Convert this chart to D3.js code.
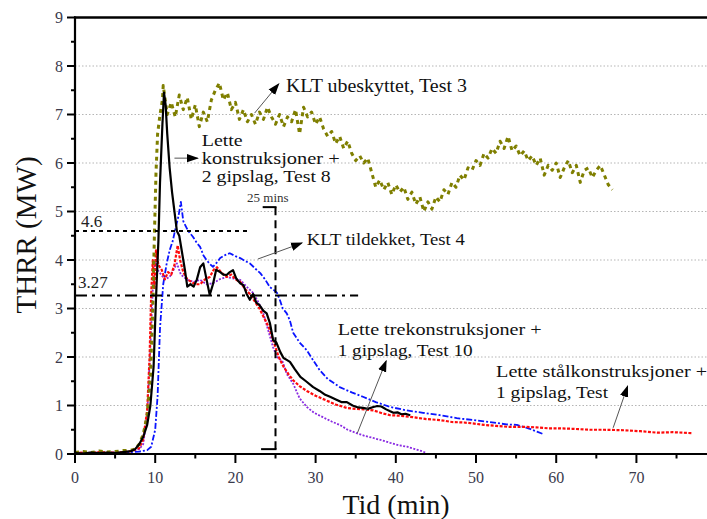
<!DOCTYPE html>
<html><head><meta charset="utf-8">
<script src="https://cdn.jsdelivr.net/npm/d3@7"></script>
<style>body{margin:0;background:#fff}svg{display:block}</style>
</head><body>
<svg id="c" width="707" height="519"></svg>
<script>
// ---------- DATA ----------
const xTicksMajor = [0,10,20,30,40,50,60,70];
const xTicksMinor = [5,15,25,35,45,55,65,75];
const yTicksMajor = [0,1,2,3,4,5,6,7,8,9];
const yTicksMinor = [0.5,1.5,2.5,3.5,4.5,5.5,6.5,7.5,8.5];
const gridY = [1,2,3,4,5,6,7,8];

// KLT ubeskyttet, Test 3 (olive)
const oliveT = [0,1,2,3,4,5,6,7,7.5,8,8.5,9,9.4,9.7,9.9,10.1,10.3,10.6,10.9,11.0,11.5,12.0,12.5,13.0,13.5,14.0,14.5,15.0,15.5,16.0,16.5,17.0,17.5,18.0,18.5,19.0,19.5,20.0,20.5,21.0,21.5,22.0,22.5,23.0,23.5,24.0,24.5,25.0,25.5,26.0,26.5,27.0,27.5,28.0,28.5,29.0,29.5,30.0,30.5,31.0,31.5,32.0,32.5,33.0,33.5,34.0,34.5,35.0,35.5,36.0,36.5,37.0,37.5,38.0,38.5,39.0,39.5,40.0,40.5,41.0,41.5,42.0,42.5,43.0,43.5,44.0,44.5,45.0,45.5,46.0,46.5,47.0,47.5,48.0,48.5,49.0,49.5,50.0,50.5,51.0,51.5,52.0,52.5,53.0,53.5,54.0,54.5,55.0,55.5,56.0,56.5,57.0,57.5,58.0,58.5,59.0,59.5,60.0,60.5,61.0,61.5,62.0,62.5,63.0,63.5,64.0,64.5,65.0,65.5,66.0,66.5,67.0];
const oliveV = [0.03,0.05,0.03,0.06,0.04,0.05,0.07,0.08,0.1,0.2,0.4,0.8,1.6,3.0,4.5,5.8,6.6,7.0,7.3,7.6,7.0,7.25,6.95,7.4,7.1,7.35,6.9,7.2,6.75,7.05,6.85,7.3,7.5,7.65,7.3,7.45,7.1,7.25,6.9,7.1,6.85,7.0,6.8,7.05,6.9,7.15,6.95,6.8,7.0,6.75,6.95,6.85,7.1,6.6,7.15,6.95,7.05,6.8,6.95,6.7,6.55,6.65,6.4,6.55,6.3,6.45,6.2,6.05,6.15,6.0,6.1,5.8,5.5,5.65,5.45,5.6,5.35,5.55,5.4,5.5,5.25,5.4,5.15,5.3,5.0,5.2,5.05,5.3,5.2,5.45,5.35,5.6,5.5,5.75,5.65,5.9,5.85,6.05,5.95,6.2,6.1,6.3,6.2,6.45,6.3,6.55,6.25,6.35,6.15,6.25,6.05,6.15,5.95,6.1,5.75,5.95,5.85,6.0,5.7,5.9,6.05,5.8,5.95,5.6,5.85,5.9,5.7,5.85,5.95,5.75,5.55,5.45];

// Lette konstruksjoner + 2 gipslag, Test 8 (black)
const blackT = [0,1,2,3,4,5,6,7,7.5,8,8.5,9,9.4,9.8,10.1,10.4,10.6,10.9,11.1,11.3,11.5,11.8,12.1,12.4,12.7,13.0,13.3,13.7,14.0,14.4,14.8,15.2,15.6,16.0,16.4,16.8,17.2,17.6,18.1,18.5,18.9,19.3,19.7,20.1,20.6,21.0,21.4,21.8,22.2,22.6,23.0,23.5,23.9,24.3,24.7,25.1,25.6,26.0,26.4,26.8,27.4,28.1,28.8,29.7,30.5,31.2,31.8,32.6,33.2,33.9,34.6,35.3,35.9,36.5,37.2,37.7,38.2,38.8,39.3,39.7,40.2,40.7,41.2,41.8];
const blackV = [0.02,0.01,0.03,0.02,0.03,0.02,0.04,0.06,0.1,0.2,0.35,0.6,1.0,1.8,3.2,4.4,5.6,6.8,7.45,7.2,6.6,5.9,5.4,5.0,4.6,4.5,4.2,3.8,3.45,3.5,3.45,3.6,3.85,3.93,3.6,3.28,3.5,3.8,3.75,3.7,3.69,3.75,3.79,3.62,3.52,3.48,3.3,3.18,3.3,3.12,3.07,2.95,2.9,2.7,2.35,2.3,2.1,1.98,1.94,1.9,1.75,1.59,1.5,1.38,1.3,1.22,1.18,1.12,1.07,1.07,1.0,0.96,0.95,0.93,0.97,0.99,0.98,0.92,0.88,0.85,0.86,0.82,0.83,0.8];

// Lette stålkonstruksjoner + 1 gipslag (red)
const redT = [0,1,2,3,4,5,6,7,8,8.5,9,9.3,9.5,9.7,9.9,10.1,10.4,10.8,11.2,11.6,12.0,12.4,12.8,13.1,13.5,14.0,14.5,15.0,15.6,16.2,16.8,17.3,17.7,18.2,18.9,19.5,20.0,20.6,21.2,21.8,22.4,23.0,23.6,24.2,24.8,25.4,26.0,26.6,27.2,28.0,28.9,30.0,31.4,32.5,33.9,35.0,36.0,37.2,38.3,39.3,40.5,42.1,43.8,45.5,47.0,48.5,49.6,51.0,52.5,54.0,55.9,57.5,59.0,60.1,62.0,64.2,66.0,68.4,70.5,72.6,74.5,76.9];
const redV = [0.02,0.03,0.02,0.04,0.03,0.03,0.04,0.06,0.12,0.3,0.9,2.0,3.3,4.0,3.4,4.2,3.9,3.8,3.6,3.75,3.7,3.9,4.3,4.0,3.75,3.6,3.55,3.5,3.5,3.6,3.65,3.8,3.85,3.75,3.65,3.7,3.6,3.55,3.4,3.3,3.15,3.0,2.8,2.6,2.3,2.0,1.8,1.65,1.52,1.4,1.3,1.2,1.1,1.02,0.95,0.93,0.92,0.9,0.84,0.8,0.79,0.76,0.72,0.7,0.66,0.65,0.63,0.6,0.58,0.56,0.56,0.55,0.53,0.53,0.52,0.5,0.5,0.49,0.47,0.44,0.45,0.43];

// KLT tildekket, Test 4 (blue)
const blueT = [0,1,2,3,4,5,6,7,8,9,9.5,10.0,10.3,10.6,11.0,11.4,11.8,12.2,12.6,12.9,13.2,13.5,13.8,14.1,14.7,15.2,15.6,16.0,16.4,16.8,17.2,17.7,18.1,18.7,19.3,20.0,20.6,21.2,21.8,22.5,23.1,23.7,24.3,24.8,25.2,25.6,25.9,26.4,26.8,27.2,28.0,28.9,29.7,30.5,31.5,33.0,34.5,35.9,37.5,39.3,41.3,43.4,45.5,47.6,49.6,51.7,53.8,55.1,56.7,57.6,58.4];
const blueV = [0.02,0.02,0.03,0.02,0.03,0.03,0.03,0.04,0.05,0.08,0.15,0.5,1.2,2.6,3.5,3.9,4.2,4.4,4.7,4.9,5.2,4.8,4.7,4.6,4.48,4.35,4.27,4.1,4.0,3.92,3.86,3.95,4.04,4.1,4.14,4.08,4.04,3.98,3.93,3.82,3.73,3.6,3.44,3.38,3.32,3.15,3.0,2.9,2.75,2.5,2.3,2.14,1.93,1.73,1.55,1.38,1.27,1.18,1.07,0.97,0.9,0.85,0.8,0.74,0.7,0.66,0.61,0.6,0.52,0.46,0.41];

// Lette trekonstruksjoner + 1 gipslag, Test 10 (purple)
const purpleT = [0,1,2,3,4,5,6,7,8,8.5,9,9.4,9.7,10.0,10.3,10.6,11.2,11.8,12.3,12.7,13.2,14.0,14.8,15.6,16.4,17.2,18.0,18.9,19.7,20.6,21.4,22.2,22.8,23.4,24.0,24.7,25.2,25.9,26.4,27.2,28.0,28.9,29.8,30.9,32.0,33.0,34.0,35.1,36.2,37.2,38.3,39.3,40.4,41.4,42.4,43.4,43.8];
const purpleV = [0.02,0.03,0.02,0.03,0.02,0.03,0.04,0.05,0.1,0.2,0.8,2.2,3.4,4.0,3.8,3.73,3.6,3.65,3.8,3.93,3.7,3.59,3.55,3.59,3.5,3.52,3.6,3.65,3.62,3.59,3.45,3.32,3.15,2.95,2.6,2.2,2.0,1.9,1.65,1.45,1.15,0.97,0.85,0.76,0.67,0.6,0.5,0.43,0.37,0.33,0.28,0.23,0.18,0.15,0.1,0.05,0.02];

// Reference lines
const refH1 = {value:4.6, x0:0, x1:21.8, label:"4.6"};
const refH2 = {value:3.27, x0:0, x1:35.3, label:"3.27"};
const refV = {time:25, top:5.09, label:"25 mins"};

// Annotations (text lines, baselines in MW, widths of each line)
const notes = [
  {lines:["KLT ubeskyttet, Test 3"], x:26.3, ys:[7.46], widths:[181], size:18, from:[22.4,7.03], to:[25.4,7.63]},
  {lines:["Lette","konstruksjoner +","2 gipslag, Test 8"], x:15.8, ys:[6.35,5.98,5.61], widths:[41,138,129], size:17, from:[12.4,6.1], to:[15.3,6.1]},
  {lines:["KLT tildekket, Test 4"], x:28.9, ys:[4.31], widths:[158], size:17, from:[22.8,4.02], to:[28.3,4.35]},
  {lines:["Lette trekonstruksjoner +","1 gipslag, Test 10"], x:32.75, ys:[2.45,2.02], widths:[204,135], size:17, from:[35.2,0.43], to:[38.8,1.92]},
  {lines:["Lette stålkonstruksjoner +","1 gipslag, Test"], x:52.5, ys:[1.59,1.15], widths:[211,112], size:17, from:[67.1,0.54], to:[68.9,1.4]}
];

// ---------- CHART ----------
const svg = d3.select("#c");
const x = d3.scaleLinear().domain([0,78.8]).range([75,707]);
const y = d3.scaleLinear().domain([0,9]).range([454,17.5]);
const serif = "'Liberation Serif','Times New Roman',serif";
const tickColor = "#3a3a4c";

svg.append("g").selectAll("line").data(gridY).join("line")
  .attr("x1",x(0)).attr("x2",707).attr("y1",d=>y(d)).attr("y2",d=>y(d))
  .attr("stroke","#b5b5b5").attr("stroke-width",1).attr("stroke-dasharray","1.5,2");

const line = d3.line().x(d=>x(d[0])).y(d=>y(d[1]));
const zip = (a,b)=>a.map((t,i)=>[t,b[i]]);
const series = [
  {t:purpleT, v:purpleV, color:"#8a2be2", w:1.8, dash:"2,1.5"},
  {t:blueT, v:blueV, color:"#0a14ff", w:1.8, dash:"6,2,2,2"},
  {t:redT, v:redV, color:"#ff0a0a", w:2.2, dash:"3,1.5"},
  {t:oliveT, v:oliveV, color:"#7f7f00", w:3, dash:"4,4"},
  {t:blackT, v:blackV, color:"#000", w:2.2, dash:null}
];
svg.append("g").selectAll("path").data(series).join("path")
  .attr("d",d=>line(zip(d.t,d.v)))
  .attr("fill","none").attr("stroke",d=>d.color).attr("stroke-width",d=>d.w)
  .attr("stroke-linejoin","round")
  .attr("stroke-dasharray",d=>d.dash);

// reference lines
svg.append("line").attr("x1",x(refH1.x0)).attr("x2",x(refH1.x1))
  .attr("y1",y(refH1.value)).attr("y2",y(refH1.value))
  .attr("stroke","#000").attr("stroke-width",2).attr("stroke-dasharray","4,4");
svg.append("line").attr("x1",x(refH2.x0)).attr("x2",x(refH2.x1))
  .attr("y1",y(refH2.value)).attr("y2",y(refH2.value))
  .attr("stroke","#000").attr("stroke-width",2).attr("stroke-dasharray","12,5,3,5");
svg.append("text").attr("x",x(0.75)).attr("y",y(4.68)).text(refH1.label)
  .attr("font-family",serif).attr("font-size",17).attr("fill","#222");
svg.append("text").attr("x",x(0.37)).attr("y",y(3.42)).text(refH2.label)
  .attr("font-family",serif).attr("font-size",17).attr("fill","#222");
svg.append("line").attr("x1",x(refV.time)).attr("x2",x(refV.time))
  .attr("y1",y(refV.top)).attr("y2",y(0.08))
  .attr("stroke","#000").attr("stroke-width",2).attr("stroke-dasharray","8,5");
svg.append("line").attr("x1",x(23.4)).attr("x2",x(refV.time)+1)
  .attr("y1",y(refV.top)).attr("y2",y(refV.top)).attr("stroke","#000").attr("stroke-width",2);
svg.append("line").attr("x1",x(23.2)).attr("x2",x(refV.time)+1)
  .attr("y1",y(0.1)).attr("y2",y(0.1)).attr("stroke","#000").attr("stroke-width",2);
svg.append("text").attr("x",x(21.45)).attr("y",y(5.2)).text(refV.label)
  .attr("font-family",serif).attr("font-size",13).attr("fill","#333");

// annotation arrows and texts
const defs = svg.append("defs");
defs.append("marker").attr("id","ah").attr("viewBox","0 0 10 10").attr("refX",9).attr("refY",5)
  .attr("markerWidth",12).attr("markerHeight",12).attr("markerUnits","userSpaceOnUse").attr("orient","auto")
  .append("path").attr("d","M0,1.5 L10,5 L0,8.5 Z").attr("fill","#000");
const ng = svg.append("g");
notes.forEach(n=>{
  ng.append("line").attr("x1",x(n.from[0])).attr("y1",y(n.from[1]))
    .attr("x2",x(n.to[0])).attr("y2",y(n.to[1]))
    .attr("stroke","#555").attr("stroke-width",1).attr("marker-end","url(#ah)");
  n.lines.forEach((s,i)=>{
    ng.append("text").attr("x",x(n.x)).attr("y",y(n.ys[i]))
      .attr("font-family",serif).attr("font-size",n.size).attr("fill","#111")
      .attr("textLength",n.widths[i]).attr("lengthAdjust","spacingAndGlyphs")
      .text(s);
  });
});

// axes
const ax = svg.append("g").attr("transform",`translate(0,${y(0)})`);
ax.append("line").attr("x1",x(0)-1).attr("x2",707).attr("stroke","#000").attr("stroke-width",2.2);
ax.selectAll(".mj").data(xTicksMajor).join("line").attr("x1",d=>x(d)).attr("x2",d=>x(d))
  .attr("y1",0).attr("y2",9).attr("stroke","#000").attr("stroke-width",2);
ax.selectAll(".mn").data(xTicksMinor).join("line").attr("class","mn").attr("x1",d=>x(d)).attr("x2",d=>x(d))
  .attr("y1",0).attr("y2",4.5).attr("stroke","#000").attr("stroke-width",2);
ax.selectAll("text").data(xTicksMajor).join("text").attr("x",d=>x(d)).attr("y",29)
  .attr("text-anchor","middle").attr("font-family",serif).attr("font-size",16).attr("fill",tickColor).text(d=>d);

const ay = svg.append("g").attr("transform",`translate(${x(0)},0)`);
ay.append("line").attr("y1",y(0)+1).attr("y2",y(9)-1).attr("stroke","#000").attr("stroke-width",2.2);
ay.selectAll(".mj").data(yTicksMajor).join("line").attr("y1",d=>y(d)).attr("y2",d=>y(d))
  .attr("x1",0).attr("x2",-8).attr("stroke","#000").attr("stroke-width",2);
ay.selectAll(".mn").data(yTicksMinor).join("line").attr("class","mn").attr("y1",d=>y(d)).attr("y2",d=>y(d))
  .attr("x1",0).attr("x2",-4).attr("stroke","#000").attr("stroke-width",2);
ay.selectAll("text").data(yTicksMajor).join("text").attr("x",-12).attr("y",d=>y(d)+5.5)
  .attr("text-anchor","end").attr("font-family",serif).attr("font-size",16).attr("fill",tickColor).text(d=>d);

// top frame
svg.append("line").attr("x1",x(0)-1).attr("x2",707).attr("y1",y(9)).attr("y2",y(9))
  .attr("stroke","#000").attr("stroke-width",2.5);

// axis titles
svg.append("text").attr("x",396).attr("y",514).attr("text-anchor","middle")
  .attr("font-family",serif).attr("font-size",28).attr("fill","#111").text("Tid (min)");
svg.append("text").attr("transform","translate(36,235) rotate(-90)").attr("text-anchor","middle")
  .attr("font-family",serif).attr("font-size",29).attr("fill","#111").text("THRR (MW)");
</script>
</body></html>
